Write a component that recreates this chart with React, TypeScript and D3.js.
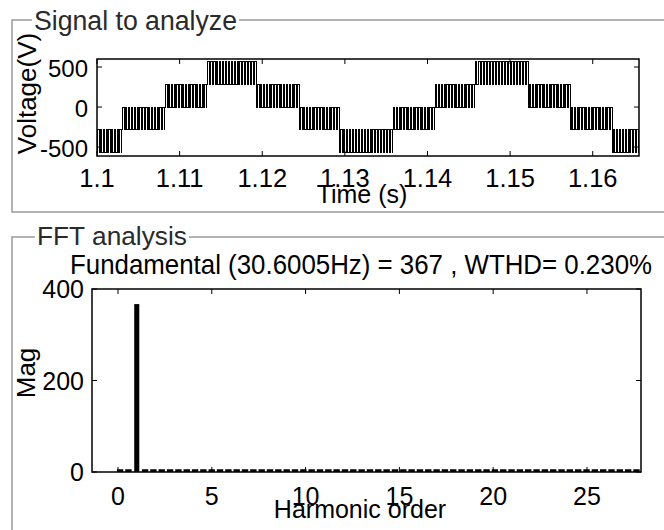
import React from "react";
import * as d3 from "d3";

// ---------- data ----------
const timeTicks = [1.1, 1.11, 1.12, 1.13, 1.14, 1.15, 1.16];
const timeTickLabels = ["1.1", "1.11", "1.12", "1.13", "1.14", "1.15", "1.16"];
const voltTicks = [-500, 0, 500];
const voltTickLabels = ["-500", "0", "500"];

// multilevel PWM signal: band segments (start, end, low level, high level, pulse count)
const segStart = [1.1, 1.10302, 1.10823, 1.11331, 1.11935, 1.12456, 1.12939, 1.13581, 1.14089, 1.14572, 1.15226, 1.15734, 1.16242];
const segEnd = [1.10302, 1.10823, 1.11331, 1.11935, 1.12456, 1.12939, 1.13581, 1.14089, 1.14572, 1.15226, 1.15734, 1.16242, 1.1656];
const segLow = [-570, -285, 0, 285, 0, -285, -570, -285, 0, 285, 0, -285, -570];
const segHigh = [-285, 0, 285, 570, 285, 0, -285, 0, 285, 570, 285, 0, -285];
const segPulses = [9, 15, 15, 17, 15, 14, 18, 15, 14, 18, 15, 15, 9];

const harmTicks = [0, 5, 10, 15, 20, 25];
const harmTickLabels = ["0", "5", "10", "15", "20", "25"];
const magTicks = [0, 200, 400];
const magTickLabels = ["0", "200", "400"];

const fftStartOrder = 0.112;
const fftBinStep = 0.444;
const fftMag = [
  6, 6, 367, 6, 6, 6, 6, 6, 6, 6,
  6, 6, 6, 6, 6, 6, 6, 6, 6, 6,
  6, 6, 6, 6, 6, 6, 6, 6, 6, 6,
  6, 6, 6, 6, 6, 6, 6, 6, 6, 6,
  6, 6, 6, 6, 6, 6, 6, 6, 6, 6,
  6, 6, 6, 6, 6, 6, 6, 6, 6, 6,
  6, 6, 6,
];

const fftTitle = "Fundamental (30.6005Hz) = 367 , WTHD= 0.230%";

// ---------- helpers ----------
const FONT = "'Liberation Sans', Arial, sans-serif";

function Txt(props: any) {
  const { x, y, size, anchor = "start", rot = 0, children, len, fill = "#000", sy = 1.0 } = props;
  const scale = rot ? `scale(${sy},1)` : `scale(1,${sy})`;
  return (
    <text
      transform={`translate(${x},${y}) rotate(${rot}) ${scale}`}
      fontSize={size}
      fontFamily={FONT}
      textAnchor={anchor}
      fill={fill}
      textLength={len}
      lengthAdjust={len ? "spacingAndGlyphs" : undefined}
    >
      {children}
    </text>
  );
}

export default function App() {
  // top axes
  const tx = d3.scaleLinear().domain([1.1, 1.1656]).range([97, 639]);
  const ty = d3.scaleLinear().domain([-612, 600]).range([156, 59]);
  // bottom axes
  const bx = d3.scaleLinear().domain([-1.386, 27.88]).range([92, 641]);
  const by = d3.scaleLinear().domain([0, 400]).range([472, 289]);

  const pts: [number, number][] = [];
  segStart.forEach((t0, i) => {
    const t1 = segEnd[i];
    const n = segPulses[i];
    const lo = segLow[i];
    const hi = segHigh[i];
    const dt = (t1 - t0) / n;
    pts.push([t0, lo]);
    for (let j = 0; j < n; j++) {
      const ts = t0 + j * dt + dt * 0.25;
      pts.push([ts, hi]);
      pts.push([ts + dt * 0.5, lo]);
    }
    pts.push([t1, lo]);
  });
  const line = d3
    .line<[number, number]>()
    .x((d) => tx(d[0]))
    .y((d) => ty(d[1]))
    .curve(d3.curveStepAfter);

  const tick = 5;
  const border = "#9a9a9a";

  return (
    <svg
      width={664}
      height={530}
      style={{ position: "absolute", left: 0, top: 0, background: "#fff" }}
    >
      <rect x={0} y={0} width={664} height={530} fill="#fff" />
      {/* group boxes */}
      <path d="M32,20 H12 V212 H664" fill="none" stroke={border} strokeWidth={1.5} />
      <path d="M239,20 H664" fill="none" stroke={border} strokeWidth={1.5} />
      <Txt x={34} y={30} size={26} sy={1.06} len={203} fill="#2a2a2a">Signal to analyze</Txt>

      <path d="M35,237 H12 V530" fill="none" stroke={border} strokeWidth={1.5} />
      <path d="M189,237 H664" fill="none" stroke={border} strokeWidth={1.5} />
      <Txt x={37} y={245} size={26} sy={1.0} len={150} fill="#2a2a2a">FFT analysis</Txt>

      {/* ---- top plot ---- */}
      <defs>
        <clipPath id="topclip">
          <rect x={97} y={59} width={542} height={97} />
        </clipPath>
      </defs>
      <path
        d={line(pts) || ""}
        fill="none"
        stroke="#000"
        strokeWidth={1}
        shapeRendering="crispEdges"
        clipPath="url(#topclip)"
      />
      <rect x={97} y={59} width={542} height={97} fill="none" stroke="#000" strokeWidth={1.5} />
      {timeTicks.map((t, i) => (
        <g key={"tt" + i}>
          <line x1={tx(t)} x2={tx(t)} y1={156} y2={156 - tick} stroke="#000" />
          <line x1={tx(t)} x2={tx(t)} y1={59} y2={59 + tick} stroke="#000" />
          <Txt x={tx(t)} y={187} size={25.5} anchor="middle">{timeTickLabels[i]}</Txt>
        </g>
      ))}
      {voltTicks.map((v, i) => (
        <g key={"vt" + i}>
          <line x1={97} x2={97 + tick} y1={ty(v)} y2={ty(v)} stroke="#000" />
          <line x1={639} x2={639 - tick} y1={ty(v)} y2={ty(v)} stroke="#000" />
          <Txt x={88} y={ty(v) + 9.5} size={24} anchor="end">{voltTickLabels[i]}</Txt>
        </g>
      ))}
      <Txt x={362} y={203} size={25} anchor="middle">Time (s)</Txt>
      <Txt x={36} y={93.5} size={26} anchor="middle" rot={-90}>Voltage(V)</Txt>

      {/* ---- bottom plot ---- */}
      <Txt x={70} y={274} size={26} sy={1.05} len={582}>{fftTitle}</Txt>
      {fftMag.map((m, i) => {
        const o = fftStartOrder + i * fftBinStep;
        const w = m > 100 ? 0.27 : 0.34;
        const x0 = bx(o - w / 2);
        const x1 = bx(o + w / 2);
        return (
          <rect key={"b" + i} x={x0} y={by(m)} width={x1 - x0} height={by(0) - by(m)} fill="#000" />
        );
      })}
      <rect x={92} y={289} width={549} height={183} fill="none" stroke="#000" strokeWidth={1.5} />
      {harmTicks.map((h, i) => (
        <g key={"ht" + i}>
          <line x1={bx(h)} x2={bx(h)} y1={472} y2={472 - tick} stroke="#000" />
          <line x1={bx(h)} x2={bx(h)} y1={289} y2={289 + tick} stroke="#000" />
          <Txt x={bx(h)} y={505} size={25} anchor="middle">{harmTickLabels[i]}</Txt>
        </g>
      ))}
      {magTicks.map((m, i) => (
        <g key={"mt" + i}>
          <line x1={92} x2={92 + tick} y1={by(m)} y2={by(m)} stroke="#000" />
          <line x1={641} x2={641 - tick} y1={by(m)} y2={by(m)} stroke="#000" />
          <Txt x={84} y={by(m) + 9} size={25} anchor="end">{magTickLabels[i]}</Txt>
        </g>
      ))}
      <Txt x={360} y={518} size={25} anchor="middle">Harmonic order</Txt>
      <Txt x={35} y={373} size={26} anchor="middle" rot={-90}>Mag</Txt>
    </svg>
  );
}
